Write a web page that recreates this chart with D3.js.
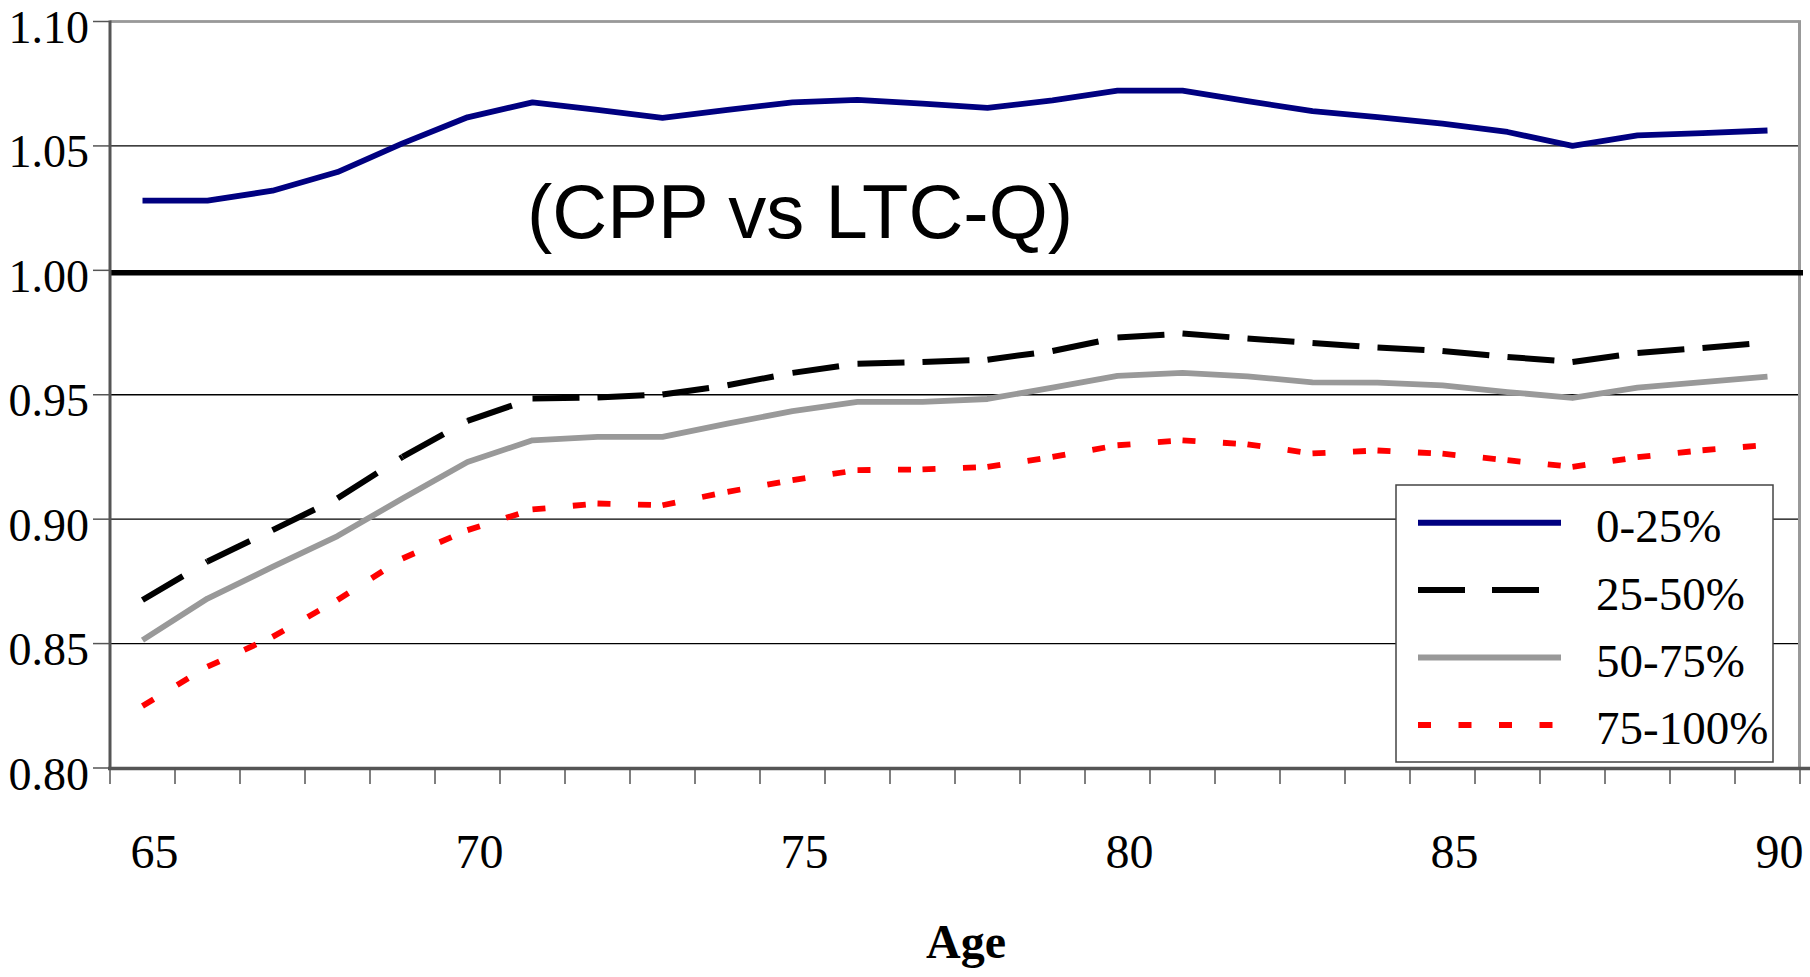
<!DOCTYPE html>
<html><head><meta charset="utf-8">
<script src="https://cdn.jsdelivr.net/npm/d3@7"></script>
<style>body{margin:0;background:#fff}svg{display:block}</style>
</head><body><svg id="c" width="1810" height="977"></svg>
<script>
// ---- data ----
const ages = [65,66,67,68,69,70,71,72,73,74,75,76,77,78,79,80,81,82,83,84,85,86,87,88,89,90];
const xTickLabels = [65,70,75,80,85,90];
const yTicks = [0.80,0.85,0.90,0.95,1.00,1.05,1.10];
const seriesNames = ["0-25%","25-50%","50-75%","75-100%"];
const q0_25   = [1.028,1.028,1.032,1.0395,1.051,1.0615,1.0675,1.0645,1.0613,1.0645,1.0675,1.0685,1.067,1.0653,1.0683,1.0722,1.0722,1.068,1.064,1.0616,1.059,1.0556,1.050,1.0542,1.0551,1.0562];
const q25_50  = [0.8675,0.883,0.8956,0.9084,0.925,0.9395,0.9485,0.9489,0.9501,0.9538,0.9588,0.9625,0.9632,0.9641,0.9676,0.973,0.9746,0.9726,0.9708,0.969,0.9676,0.9652,0.9632,0.9668,0.9688,0.971];
const q50_75  = [0.8514,0.8681,0.8808,0.8932,0.9083,0.923,0.9317,0.9331,0.9331,0.9384,0.9434,0.9471,0.9471,0.9483,0.9529,0.9576,0.9588,0.9574,0.955,0.9549,0.9538,0.9511,0.9487,0.9529,0.9551,0.9573];
const q75_100 = [0.8249,0.8407,0.8527,0.8675,0.8842,0.8956,0.9039,0.9063,0.9056,0.911,0.9157,0.9197,0.92,0.921,0.925,0.9297,0.9317,0.9301,0.9264,0.9276,0.9263,0.9237,0.921,0.9249,0.9277,0.9298];
const refValue = [1.00];
const chartTitle = "(CPP vs LTC-Q)";
const xTitle = "Age";

// ---- styles ----
const serif = "'Liberation Serif','Times New Roman',serif";
const sans = "'Liberation Sans',Arial,sans-serif";
const styles = [
  {color:"#000080", w:5.8, dash:null},
  {color:"#000000", w:6,   dash:"47 27"},
  {color:"#999999", w:5.8, dash:null},
  {color:"#ff0000", w:5.8, dash:"13 27.5"}
];
const allSeries = [q0_25, q25_50, q50_75, q75_100];

const svg = d3.select("#c");
const x = d3.scaleBand().domain(ages).range([110, 1800]).padding(0);
const cx = a => x(a) + x.bandwidth() / 2;
const y = d3.scaleLinear().domain([0.8, 1.1]).range([768, 21.5]);
const xL = 110, xR = 1800;

// gridlines
svg.append("g").selectAll("line").data(yTicks.filter(v => v > 0.8 && v !== 1.0)).join("line")
  .attr("x1", xL).attr("x2", xR - 1).attr("y1", d => y(d)).attr("y2", d => y(d))
  .attr("stroke", "#000").attr("stroke-width", 1.3);

// plot border (top, right)
svg.append("line").attr("x1", xL).attr("x2", xR + 1).attr("y1", y(1.1)).attr("y2", y(1.1))
  .attr("stroke", "#999").attr("stroke-width", 2.5);
svg.append("line").attr("x1", xR - 0.5).attr("x2", xR - 0.5).attr("y1", y(1.1) - 1).attr("y2", y(0.8))
  .attr("stroke", "#999").attr("stroke-width", 3);

// series
const gS = svg.append("g").attr("fill", "none");
allSeries.forEach((vals, si) => {
  const st = styles[si];
  const pts = ages.map((a, i) => [cx(a), y(vals[i])]);
  if (!st.dash) {
    gS.append("path").attr("d", d3.line()(pts))
      .attr("stroke", st.color).attr("stroke-width", st.w)
      .attr("stroke-linejoin", "round").attr("stroke-linecap", "butt");
  } else {
    for (let i = 0; i < pts.length - 1; i++) {
      gS.append("path").attr("d", d3.line()([pts[i], pts[i + 1]]))
        .attr("stroke", st.color).attr("stroke-width", st.w)
        .attr("stroke-dasharray", st.dash).attr("stroke-linecap", "butt");
    }
  }
});

// reference 1.00 line
svg.append("g").selectAll("line").data(refValue).join("line")
  .attr("x1", xL).attr("x2", xR + 3).attr("y1", d => y(d) + 2.5).attr("y2", d => y(d) + 2.5)
  .attr("stroke", "#000").attr("stroke-width", 5.5);

// y axis
svg.append("line").attr("x1", xL).attr("x2", xL).attr("y1", y(1.1) - 1).attr("y2", y(0.8) + 2)
  .attr("stroke", "#555").attr("stroke-width", 3);
const gY = svg.append("g");
gY.selectAll("line").data(yTicks).join("line")
  .attr("x1", xL - 17).attr("x2", xL).attr("y1", d => y(d)).attr("y2", d => y(d))
  .attr("stroke", "#555").attr("stroke-width", 1.5);
gY.selectAll("text").data(yTicks).join("text")
  .attr("x", 89).attr("y", d => y(d) + 21.5).attr("text-anchor", "end")
  .attr("font-family", serif).attr("font-size", 46).attr("fill", "#000")
  .text(d => d3.format(".2f")(d));

// x axis
svg.append("line").attr("x1", xL - 2).attr("x2", 1810).attr("y1", 768.5).attr("y2", 768.5)
  .attr("stroke", "#555").attr("stroke-width", 3.5);
const tickPos = ages.map(a => x(a)).concat([xR]);
svg.append("g").selectAll("line").data(tickPos).join("line")
  .attr("x1", d => d).attr("x2", d => d).attr("y1", 768).attr("y2", 784)
  .attr("stroke", "#555").attr("stroke-width", 1.5);
svg.append("g").selectAll("text").data(xTickLabels).join("text")
  .attr("x", d => cx(d) + 12).attr("y", 867.5).attr("text-anchor", "middle")
  .attr("font-family", serif).attr("font-size", 48).attr("fill", "#000")
  .text(d => d);
svg.append("text").attr("x", 966).attr("y", 958).attr("text-anchor", "middle")
  .attr("font-family", serif).attr("font-size", 48).attr("font-weight", "bold").text(xTitle);

// in-plot title
svg.append("text").attr("x", 527).attr("y", 238)
  .attr("font-family", sans).attr("font-size", 76).attr("fill", "#000").text(chartTitle);

// legend
const lg = svg.append("g");
lg.append("rect").attr("x", 1396).attr("y", 485).attr("width", 377).attr("height", 277)
  .attr("fill", "#fff").attr("stroke", "#444").attr("stroke-width", 1.5);
seriesNames.forEach((name, i) => {
  const st = styles[i];
  const ly = 522.7 + i * 67.4;
  lg.append("line").attr("x1", 1418).attr("x2", 1561).attr("y1", ly).attr("y2", ly)
    .attr("stroke", st.color).attr("stroke-width", 6)
    .attr("stroke-dasharray", st.dash).attr("stroke-linecap", "butt");
  lg.append("text").attr("x", 1596).attr("y", ly + 19.5)
    .attr("font-family", serif).attr("font-size", 47).attr("fill", "#000").text(name);
});
</script></body></html>
